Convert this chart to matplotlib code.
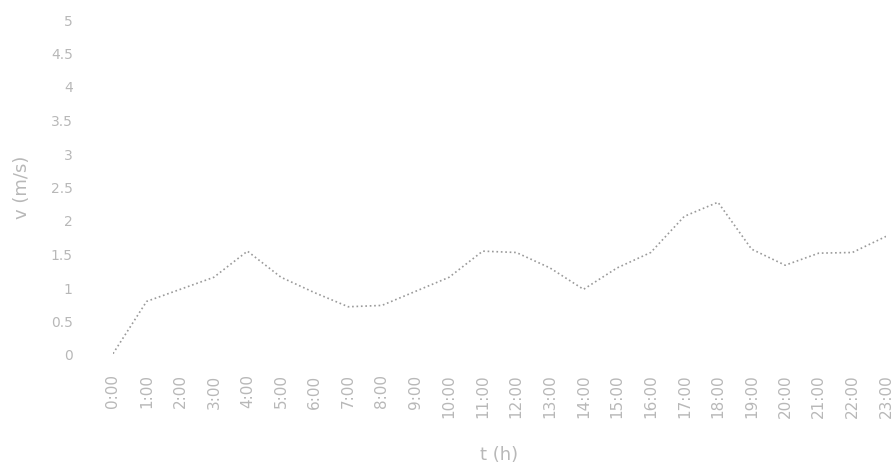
import matplotlib
matplotlib.use('Agg')
import matplotlib.pyplot as plt
from matplotlib.ticker import FuncFormatter

hours = ['0:00', '1:00', '2:00', '3:00', '4:00', '5:00', '6:00', '7:00',
         '8:00', '9:00', '10:00', '11:00', '12:00', '13:00', '14:00', '15:00',
         '16:00', '17:00', '18:00', '19:00', '20:00', '21:00', '22:00', '23:00']
speed = [0.02, 0.80, 0.98, 1.16, 1.55, 1.16, 0.93, 0.72,
         0.74, 0.95, 1.16, 1.55, 1.53, 1.30, 0.98, 1.30,
         1.53, 2.07, 2.28, 1.58, 1.34, 1.52, 1.53, 1.77]
yticks = [0, 0.5, 1, 1.5, 2, 2.5, 3, 3.5, 4, 4.5, 5]

fig = plt.figure(figsize=(8.92, 4.66), dpi=100)
ax = fig.add_axes([113 / 892, 1 - 355 / 466, (886 - 113) / 892, (355 - 20) / 466])

x = list(range(len(hours)))
ax.plot(x, speed, color='#9a9a9a', linestyle=':', linewidth=1.2)

ax.set_xlim(0, len(hours) - 1)
ax.set_ylim(0, 5)
ax.set_xticks(x)
ax.set_xticklabels(hours, rotation=90, fontsize=11, color='#b8b8b8')
ax.set_yticks(yticks)
ax.yaxis.set_major_formatter(FuncFormatter(lambda v, p: f'{v:g}'))
ax.tick_params(axis='y', labelsize=10, labelcolor='#b8b8b8', pad=29)
ax.tick_params(length=0)
ax.tick_params(axis='x', pad=14)

for s in ax.spines.values():
    s.set_visible(False)

ax.set_xlabel('t (h)', color='#b8b8b8', fontsize=13, labelpad=20)
ax.set_ylabel('v (m/s)', color='#b8b8b8', fontsize=13, labelpad=14)

fig.savefig('out.png', dpi=100)
